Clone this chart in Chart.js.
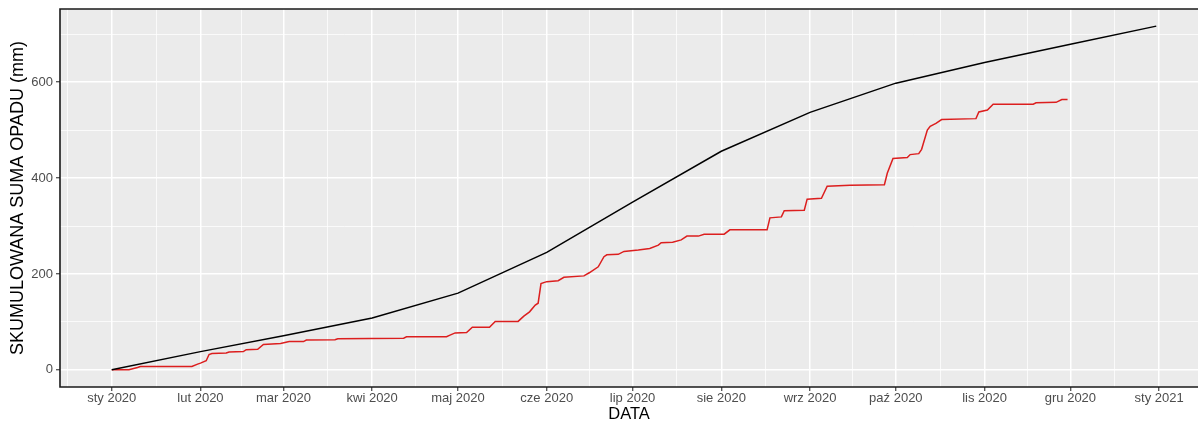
<!DOCTYPE html>
<html>
<head>
<meta charset="utf-8">
<script src="https://cdn.jsdelivr.net/npm/chart.js@4.4.1/dist/chart.umd.min.js"></script>
<style>
  html, body { margin: 0; padding: 0; background: #ffffff; overflow: hidden; }
  #wrap { width: 1198px; height: 421px; position: relative; }
</style>
</head>
<body>
<div id="wrap"><canvas id="chart"></canvas></div>
<script>
// Polish month abbreviations for the date axis
const monthNames = ['sty', 'lut', 'mar', 'kwi', 'maj', 'cze', 'lip', 'sie', 'wrz', 'paź', 'lis', 'gru'];

// Long-term norm: cumulative precipitation (mm)
const normDates = ['2020-01-01', '2020-02-01', '2020-03-01', '2020-04-01', '2020-05-01', '2020-06-01',
  '2020-07-01', '2020-08-01', '2020-09-01', '2020-10-01', '2020-11-01', '2020-12-01', '2020-12-31'];
const normValues = [0, 38, 71, 108, 160, 245, 350, 456, 537, 598, 641, 679, 717];

// Observed 2020: cumulative daily precipitation (mm)
const obsDates = ['2020-01-01', '2020-01-07', '2020-01-10', '2020-01-11', '2020-01-29', '2020-01-31',
  '2020-02-01', '2020-02-03', '2020-02-04', '2020-02-05', '2020-02-10', '2020-02-11', '2020-02-16',
  '2020-02-17', '2020-02-21', '2020-02-23', '2020-02-29', '2020-03-03', '2020-03-08', '2020-03-09',
  '2020-03-19', '2020-03-20', '2020-04-12', '2020-04-13', '2020-04-27', '2020-04-28', '2020-04-30',
  '2020-05-04', '2020-05-06', '2020-05-12', '2020-05-14', '2020-05-22', '2020-05-24', '2020-05-26',
  '2020-05-28', '2020-05-29', '2020-05-30', '2020-06-01', '2020-06-05', '2020-06-07', '2020-06-14',
  '2020-06-16', '2020-06-19', '2020-06-21', '2020-06-22', '2020-06-26', '2020-06-28', '2020-07-03',
  '2020-07-07', '2020-07-10', '2020-07-11', '2020-07-15', '2020-07-18', '2020-07-20', '2020-07-24',
  '2020-07-26', '2020-08-02', '2020-08-04', '2020-08-17', '2020-08-18', '2020-08-22', '2020-08-23',
  '2020-08-30', '2020-08-31', '2020-09-05', '2020-09-07', '2020-09-15', '2020-09-27', '2020-09-28',
  '2020-09-30', '2020-10-05', '2020-10-06', '2020-10-09', '2020-10-10', '2020-10-12', '2020-10-13',
  '2020-10-15', '2020-10-17', '2020-10-29', '2020-10-30', '2020-11-02', '2020-11-04', '2020-11-18',
  '2020-11-19', '2020-11-26', '2020-11-28', '2020-11-30'];
const obsValues = [0, 0, 5, 7, 7, 12,
  14, 19, 32, 34, 35, 37, 38,
  42, 43, 53, 55, 59, 59, 62,
  63, 65, 66, 69, 69, 72, 77,
  78, 89, 89, 101, 101, 112, 121,
  135, 139, 180, 184, 186, 193, 196,
  203, 215, 236, 240, 241, 247, 250,
  253, 260, 265, 266, 271, 279, 279,
  283, 283, 292, 292, 317, 319, 332,
  333, 356, 358, 383, 385, 386, 410,
  441, 443, 449, 451, 460, 500, 508,
  514, 522, 524, 538, 542, 554, 554,
  557, 558, 564, 564];

// Axis ticks
const yMajorTicks = [0, 200, 400, 600];
const yMinorTicks = [100, 300, 500, 700];
const xMajorStart = '2019-12-01';   // first month boundary used for grid spacing
const xMajorCount = 15;             // month boundaries through 2021-02-01

const toTime = d => Date.parse(d);
const xMin = Date.UTC(2019, 11, 13, 22);
const xMax = Date.UTC(2021, 0, 14, 14);
const yMin = -35.8;
const yMax = 752.7;

const FONT = "'Liberation Sans', Arial, Helvetica, sans-serif";

function buildXTicks() {
  const s = new Date(toTime(xMajorStart));
  const majors = [];
  for (let i = 0; i < xMajorCount; i++) majors.push(Date.UTC(s.getUTCFullYear(), s.getUTCMonth() + i, 1));
  const out = [];
  majors.forEach((v, i) => {
    out.push({ value: v, isMajor: true });
    if (i < majors.length - 1) out.push({ value: (v + majors[i + 1]) / 2, isMajor: false });
  });
  return out.filter(t => t.value >= xMin && t.value <= xMax);
}
function buildYTicks() {
  return yMajorTicks.map(v => ({ value: v, isMajor: true }))
    .concat(yMinorTicks.map(v => ({ value: v, isMajor: false })))
    .filter(t => t.value >= yMin && t.value <= yMax)
    .sort((a, b) => a.value - b.value);
}
function monthLabel(v) {
  const d = new Date(v);
  return monthNames[d.getUTCMonth()] + ' ' + d.getUTCFullYear();
}

const isMajor = c => c.tick && c.tick.isMajor;

const panelPlugin = {
  id: 'panel',
  beforeDraw(chart) {
    const { ctx, chartArea: a } = chart;
    ctx.save();
    ctx.fillStyle = '#EBEBEB';
    ctx.fillRect(a.left, a.top, a.right - a.left, a.bottom - a.top);
    ctx.restore();
  },
  afterDatasetsDraw(chart) {
    const { ctx, chartArea: a } = chart;
    ctx.save();
    ctx.strokeStyle = '#1a1a1a';
    ctx.lineWidth = 1.6;
    ctx.beginPath();
    ctx.moveTo(a.right + 2, a.top);
    ctx.lineTo(a.left, a.top);
    ctx.lineTo(a.left, a.bottom);
    ctx.lineTo(a.right + 2, a.bottom);
    ctx.stroke();
    ctx.restore();
  }
};

new Chart(document.getElementById('chart'), {
  type: 'line',
  data: {
    datasets: [
      {
        label: 'Norma',
        data: normDates.map((d, i) => ({ x: toTime(d), y: normValues[i] })),
        borderColor: '#000000',
        borderWidth: 1.5,
        pointRadius: 0,
        tension: 0,
        order: 0
      },
      {
        label: '2020',
        data: obsDates.map((d, i) => ({ x: toTime(d), y: obsValues[i] })),
        borderColor: '#dc1e1e',
        borderWidth: 1.5,
        pointRadius: 0,
        tension: 0,
        order: 1
      }
    ]
  },
  options: {
    responsive: true,
    maintainAspectRatio: false,
    devicePixelRatio: 1,
    animation: false,
    layout: { padding: { left: 0, top: 9, right: 0, bottom: 0 } },
    plugins: { legend: { display: false }, tooltip: { enabled: false } },
    scales: {
      x: {
        type: 'linear',
        min: xMin,
        max: xMax,
        afterBuildTicks: s => { s.ticks = buildXTicks(); },
        afterFit: s => { s.height = 34; s.paddingLeft = 0; s.paddingRight = 0; },
        border: { display: false },
        grid: {
          color: '#ffffff',
          lineWidth: c => isMajor(c) ? 1.5 : 0.75,
          tickColor: c => isMajor(c) ? '#333333' : 'rgba(0,0,0,0)',
          tickWidth: 1.1,
          tickLength: 4
        },
        ticks: {
          autoSkip: false,
          maxRotation: 0,
          minRotation: 0,
          padding: 0,
          color: '#4D4D4D',
          font: { family: FONT, size: 13 },
          callback: (v, i, ticks) => ticks[i] && ticks[i].isMajor ? monthLabel(v) : ''
        },
        title: {
          display: true,
          text: 'DATA',
          color: '#000000',
          font: { family: FONT, size: 16.5, lineHeight: '13px' },
          padding: { top: 0, bottom: 0 }
        }
      },
      y: {
        type: 'linear',
        min: yMin,
        max: yMax,
        afterBuildTicks: s => { s.ticks = buildYTicks(); },
        afterFit: s => { s.width = 60; s.paddingTop = 0; s.paddingBottom = 0; },
        border: { display: false },
        grid: {
          color: '#ffffff',
          lineWidth: c => isMajor(c) ? 1.5 : 0.75,
          tickColor: c => isMajor(c) ? '#333333' : 'rgba(0,0,0,0)',
          tickWidth: 1.1,
          tickLength: 4
        },
        ticks: {
          autoSkip: false,
          padding: 3,
          color: '#4D4D4D',
          font: { family: FONT, size: 13 },
          callback: (v, i, ticks) => ticks[i] && ticks[i].isMajor ? String(v) : ''
        },
        title: {
          display: true,
          text: 'SKUMULOWANA SUMA OPADU (mm)',
          color: '#000000',
          font: { family: FONT, size: 18, lineHeight: '20px' },
          padding: { top: 8, bottom: 0 }
        }
      }
    }
  },
  plugins: [panelPlugin]
});
</script>
</body>
</html>
